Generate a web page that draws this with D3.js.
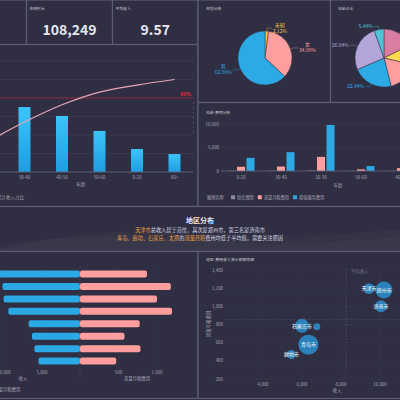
<!DOCTYPE html>
<html><head><meta charset="utf-8">
<script src="https://cdn.jsdelivr.net/npm/d3@7/dist/d3.min.js"></script>
<style>
html,body{margin:0;padding:0;background:#2c2b3e;overflow:hidden}
svg{display:block;font-family:"Noto Sans CJK SC","Noto Sans",sans-serif}
</style></head><body>
<svg id="c" width="400" height="400"></svg>
<script>
// ---------- DATA ----------
const kpiTitles = ["在网时长", "平均收入"];
const kpiValues = ["108,249", "9.57"];

const paretoCats = ["20-30", "30-40", "40-50", "50-60", "0-20", "60+"];
const paretoIncome = [52400, 35100, 30300, 22200, 12400, 9700];
const paretoTarget = 0.8;

const genderNames = ["未知", "女", "男"];
const genderShare = [2.12, 34.90, 62.99];

const ageNames = ["40-50", "50-60", "0-20", "20-30", "30-40", "60+"];
const ageShare = [17.60, 11.10, 17.38, 22.44, 26.04, 5.44];

const feeCats = ["0-20", "30-40", "20-30", "50-60", "40-50", "60+"];
const feeSeries = ["短信费用", "流量月租费用", "增值服务费用"];
const smsFee = [60, 50, 90, 30, 40, 20];
const flowFee = [900, 950, 3000, 350, 600, 300];
const vasFee = [2800, 4000, 9800, 1050, 1500, 900];

const cities = ["北京市", "郑州市", "济南市", "天津市", "太原市", "青岛市", "石家庄市", "廊坊市"];
const cityIncome = [11800, 10200, 10050, 9430, 6760, 6330, 6000, 5460];
const cityFlow = [870, 1180, 1000, 1195, 775, 578, 785, 470];
const cityUsers = [50, 72, 36, 30, 12, 100, 49, 20];

// ---------- STYLE ----------
const C = {bg:"#2c2b3e", panel:"#2f2e42", border:"#5e5d72", axis:"#a9a8b8", title:"#cfcfdb",
  grid:"#3b3a51", blue:"#2caae6", pink:"#ff9e9e", yellow:"#f6c445", gray:"#8c8ca6"};
const svg = d3.select("#c");
const defs = svg.append("defs");
svg.append("rect").attr("width",400).attr("height",400).attr("fill",C.bg);

function panel(id,x,y,w,h){
  svg.append("rect").attr("x",x).attr("y",y).attr("width",w).attr("height",h)
    .attr("fill",C.panel).attr("stroke",C.border).attr("stroke-width",1.2);
  defs.append("clipPath").attr("id","cl-"+id).append("rect")
    .attr("x",x+0.6).attr("y",y+0.6).attr("width",w-1.2).attr("height",h-1.2);
  return svg.append("g").attr("clip-path",`url(#cl-${id})`);
}
function txt(g,x,y,s,size,fill,anchor,weight){
  return g.append("text").attr("x",x).attr("y",y).attr("font-size",size).attr("fill",fill)
    .attr("text-anchor",anchor||"start").attr("font-weight",weight||"normal").text(s);
}

// ---------- KPI PANELS ----------
panel("k0",-60,0,86.5,44.5);
const kpiBoxes = [[26.5,86],[112.5,85.5]];
kpiBoxes.forEach((b,i)=>{
  const g = panel("k"+(i+1), b[0], 0, b[1], 44.5);
  txt(g, b[0]+3, 10, kpiTitles[i], 3.8, C.title);
  txt(g, b[0]+b[1]/2, 35, kpiValues[i], 14, "#e7e7f0", "middle", "bold");
});

// ---------- PARETO ----------
{
  const g = panel("pareto",-60,44.5,258,162);
  const x = d3.scaleBand().domain(paretoCats).range([-31.75,193.25]).paddingInner(0.68).paddingOuter(0.34);
  const y = d3.scaleLinear().domain([0,60000]).range([172,61]);
  const yr = d3.scaleLinear().domain([0,1.2]).range([172,61]);
  const grad = defs.append("linearGradient").attr("id","pg").attr("x1",0).attr("x2",0).attr("y1",0).attr("y2",1);
  grad.append("stop").attr("offset",0).attr("stop-color","#3cc4f8");
  grad.append("stop").attr("offset",1).attr("stop-color","#1f9de2");
  g.selectAll(".gl").data(y.ticks(6)).join("line").attr("x1",-60).attr("x2",193)
    .attr("y1",d=>y(d)).attr("y2",d=>y(d)).attr("stroke",C.grid).attr("stroke-width",0.8);
  g.selectAll(".bar").data(paretoCats).join("rect")
    .attr("x",d=>x(d)).attr("width",x.bandwidth())
    .attr("y",(d,i)=>y(paretoIncome[i])).attr("height",(d,i)=>y(0)-y(paretoIncome[i]))
    .attr("fill","url(#pg)");
  g.append("line").attr("x1",-60).attr("x2",193).attr("y1",yr(paretoTarget)).attr("y2",yr(paretoTarget))
    .attr("stroke","#8a2544").attr("stroke-width",1);
  txt(g,191,yr(paretoTarget)-2,d3.format(".0%")(paretoTarget),5,"#e8283e","end","bold");
  const total = d3.sum(paretoIncome);
  const cum = Array.from(d3.cumsum(paretoIncome)).map(v=>v/total);
  const line = d3.line().x((d,i)=>x(paretoCats[i])+x.bandwidth()/2).y(d=>yr(d)).curve(d3.curveMonotoneX);
  g.append("path").attr("d",line(cum)).attr("fill","none").attr("stroke","#e7a6b3").attr("stroke-width",1.2);
  g.append("line").attr("x1",193.5).attr("x2",193.5).attr("y1",yr(0.75)).attr("y2",yr(0.4))
    .attr("stroke","#8a89a0").attr("stroke-width",0.8).attr("stroke-dasharray","0.8,4");
  g.append("line").attr("x1",-60).attr("x2",193).attr("y1",172).attr("y2",172).attr("stroke","#66657a").attr("stroke-width",0.8);
  paretoCats.forEach(c=>txt(g,x(c)+x.bandwidth()/2,179,c,4.5,C.axis,"middle"));
  txt(g,(x.range()[0]+x.range()[1])/2,186,"年龄",4.5,C.axis,"middle");
  g.append("line").attr("x1",-20).attr("x2",-10).attr("y1",196.5).attr("y2",196.5).attr("stroke","#e7a6b3").attr("stroke-width",1.2);
  txt(g,-3.5,198.5,"累计收入占比",4.6,C.axis);
}

// ---------- PIES ----------
function pieLabels(g,cx,cy,r,arcs,colors,names,twoLine){
  arcs.forEach((a,i)=>{
    const mid=(a.startAngle+a.endAngle)/2, s=Math.sin(mid), c=Math.cos(mid);
    const px=cx+s*r, py=cy-c*r, ex=cx+s*(r+3), ey=cy-c*(r+3);
    const side = s>=0?1:-1, hx=ex+side*5;
    g.append("polyline").attr("points",[[px,py],[ex,ey],[hx,ey]].map(p=>p.join(",")).join(" "))
      .attr("fill","none").attr("stroke",colors[i]).attr("stroke-width",0.5).attr("opacity",0.7);
    const pct = a.data.toFixed(2)+"%";
    const w = pct.length*2.75;
    const tx = hx+side*(w/2+1);
    if(twoLine){
      txt(g,tx,ey-1.5,names[i],5,colors[i],"middle");
      txt(g,tx,ey+4.5,pct,5,colors[i],"middle");
    } else {
      txt(g,tx,ey+1.8,pct,5,colors[i],"middle");
    }
  });
}
{
  const g = panel("gender",198,0,132.5,102.5);
  txt(g,206,10,"性别分布",3.8,C.title);
  const cols=[C.yellow,C.pink,C.blue];
  const arcs=d3.pie().sort(null)(genderShare);
  const arc=d3.arc().innerRadius(0).outerRadius(27);
  const cx=265, cy=58;
  g.append("g").attr("transform",`translate(${cx},${cy})`).selectAll("path").data(arcs).join("path")
    .attr("d",arc).attr("fill",(d,i)=>cols[i]).attr("stroke","#34334a").attr("stroke-width",0.5);
  pieLabels(g,cx,cy,27,arcs,cols,genderNames,true);
}
{
  const g = panel("age",330.5,0,130,102.5);
  txt(g,338,10,"年龄占比",3.8,C.title);
  const cols=["#d97da3","#ffd84d","#ff9e9e","#2caae6","#b4a5d8","#4fc2d4"];
  const arcs=d3.pie().sort(null)(ageShare);
  const arc=d3.arc().innerRadius(0).outerRadius(29);
  const cx=384, cy=58;
  g.append("g").attr("transform",`translate(${cx},${cy})`).selectAll("path").data(arcs).join("path")
    .attr("d",arc).attr("fill",(d,i)=>cols[i]).attr("stroke","#34334a").attr("stroke-width",0.5);
  pieLabels(g,cx,cy,29,arcs,cols,ageNames,false);
}

// ---------- FEE GROUPED BARS ----------
{
  const g = panel("fee",198,102.5,263,104);
  txt(g,206,114,"年龄-费用分布",3.8,C.title);
  const x=d3.scaleBand().domain(feeCats).range([221,461]);
  const xs=d3.scaleBand().domain(feeSeries).range([-13.5,13.5]).paddingInner(0.158);
  const y=d3.scaleLinear().domain([0,10000]).range([171,124]);
  const vals=[smsFee,flowFee,vasFee];
  const cols=[C.gray,C.pink,C.blue];
  y.ticks(2).forEach(t=>{
    if(t>0) g.append("line").attr("x1",221).attr("x2",461).attr("y1",y(t)).attr("y2",y(t)).attr("stroke",C.grid).attr("stroke-width",0.6);
    txt(g,219,y(t)+1.6,d3.format(",")(t),4.4,C.axis,"end");
  });
  feeSeries.forEach((s,si)=>{
    g.selectAll(".b"+si).data(feeCats).join("rect").attr("class","b"+si)
      .attr("x",(d)=>x(d)+x.bandwidth()/2+xs(s)).attr("width",xs.bandwidth())
      .attr("y",(d,i)=>y(vals[si][i])).attr("height",(d,i)=>y(0)-y(vals[si][i]))
      .attr("fill",cols[si]);
  });
  g.append("line").attr("x1",221).attr("x2",461).attr("y1",171).attr("y2",171).attr("stroke","#66657a").attr("stroke-width",0.8);
  feeCats.forEach(c=>txt(g,x(c)+x.bandwidth()/2,179,c,4.5,C.axis,"middle"));
  txt(g,338,187,"年龄",4.5,C.axis,"middle");
  let lx=207;
  txt(g,lx,199,"图例名称",4.2,C.axis); lx+=24;
  feeSeries.forEach((s,si)=>{
    g.append("rect").attr("x",lx).attr("y",195.3).attr("width",4).attr("height",4).attr("fill",cols[si]).attr("rx",0.5);
    txt(g,lx+6,199,s,4.2,C.axis);
    lx+=6+s.length*4.2+4;
  });
}

// ---------- MIDDLE BAND ----------
{
  const g = panel("band",-10,206.5,420,45);
  g.append("path").attr("d","M-10,251 C60,236 120,226 200,234 C270,241 330,236 410,228 L410,251 Z")
    .attr("fill","#ffffff").attr("opacity",0.03);
  g.append("path").attr("d","M-10,246 C80,232 150,236 230,242 C300,247 350,240 410,236 L410,251 L-10,251 Z")
    .attr("fill","#ffffff").attr("opacity",0.025);
  txt(g,200,223,"地区分布",7,"#eeeef5","middle","bold");
  const orange="#f2a23a", white="#dcdce6";
  const l1=g.append("text").attr("x",200).attr("y",231.5).attr("font-size",5.2).attr("text-anchor","middle");
  [["天津市",orange],["总收入居于首位，其次是郑州市，第三名是济南市",white]].forEach(p=>l1.append("tspan").attr("fill",p[1]).text(p[0]));
  const l2=g.append("text").attr("x",200).attr("y",239.5).attr("font-size",5.2).attr("text-anchor","middle");
  [["青岛、廊坊、石家庄、太原",orange],["的",white],["流量月租",orange],["费用均低于平均值，需要关注原因",white]].forEach(p=>l2.append("tspan").attr("fill",p[1]).text(p[0]));
}

// ---------- BUTTERFLY ----------
{
  const g = panel("bfly",-60,251.5,258,147);
  const y=d3.scaleBand().domain(cities).range([267.8,367.3]).paddingInner(0.44).paddingOuter(0.22);
  const xl=d3.scaleLinear().domain([0,12000]).range([80,-11.2]);
  const xr=d3.scaleLinear().domain([0,1500]).range([80,195.5]);
  [5000,10000].forEach(t=>g.append("line").attr("x1",xl(t)).attr("x2",xl(t)).attr("y1",266).attr("y2",368).attr("stroke",C.grid).attr("stroke-width",0.4));
  [500,1000].forEach(t=>g.append("line").attr("x1",xr(t)).attr("x2",xr(t)).attr("y1",266).attr("y2",368).attr("stroke",C.grid).attr("stroke-width",0.4));
  g.append("line").attr("x1",80).attr("x2",80).attr("y1",266).attr("y2",380).attr("stroke","#45445a").attr("stroke-width",0.6);
  g.selectAll(".l").data(cities).join("rect").attr("class","l")
    .attr("x",(d,i)=>xl(cityIncome[i])).attr("width",(d,i)=>80-xl(cityIncome[i]))
    .attr("y",d=>y(d)).attr("height",y.bandwidth()).attr("rx",2).attr("fill","#2aa9e4");
  g.selectAll(".r").data(cities).join("rect").attr("class","r")
    .attr("x",80).attr("width",(d,i)=>xr(cityFlow[i])-80)
    .attr("y",d=>y(d)).attr("height",y.bandwidth()).attr("rx",2).attr("fill","#ff9e9e");
  [5000,10000].forEach(t=>txt(g,xl(t),374,d3.format(",")(t),4.4,C.axis,"middle"));
  [500,1000].forEach(t=>txt(g,xr(t),374,d3.format(",")(t),4.4,C.axis,"middle"));
  txt(g,xl(7500),380,"收入",4.4,C.axis,"middle");
  txt(g,xr(740),380,"流量月租费用",4.4,C.axis,"middle");
  g.append("rect").attr("x",-40).attr("y",386.5).attr("width",5).attr("height",4).attr("rx",1).attr("fill","#2aa9e4");
  txt(g,-33,390.5,"收入",4.4,C.axis);
  g.append("rect").attr("x",-13).attr("y",386.5).attr("width",5).attr("height",4).attr("rx",1).attr("fill","#ff9e9e");
  txt(g,-6,390.5,"流量月租费用",4.4,C.axis);
}

// ---------- SCATTER ----------
{
  const g = panel("scatter",198,251.5,263,147);
  txt(g,206,261,"地区-费用收入波士顿矩阵图",3.9,C.title);
  const x=d3.scaleLinear().domain([2000,12000]).range([224,419]);
  const y=d3.scaleLinear().domain([200,1400]).range([379,270]);
  const r=d3.scaleSqrt().domain([0,100]).range([0,10]);
  x.ticks(5).forEach(t=>{
    if(t>2000){
      g.append("line").attr("x1",x(t)).attr("x2",x(t)).attr("y1",270).attr("y2",379).attr("stroke",C.grid).attr("stroke-width",0.5);
      txt(g,x(t),386,d3.format(",")(t),4.4,C.axis,"middle");
    }
  });
  y.ticks(6).forEach(t=>{
    g.append("line").attr("x1",224).attr("x2",461).attr("y1",y(t)).attr("y2",y(t)).attr("stroke",C.grid).attr("stroke-width",0.5);
    txt(g,223,y(t)+1.6,d3.format(",")(t),4.4,C.axis,"end");
  });
  const ax=d3.mean(cityIncome), ay=d3.mean(cityFlow);
  g.append("line").attr("x1",x(ax)).attr("x2",x(ax)).attr("y1",268).attr("y2",379).attr("stroke","#56556c").attr("stroke-width",0.6).attr("stroke-dasharray","2,1.5");
  g.append("line").attr("x1",224).attr("x2",461).attr("y1",y(ay)).attr("y2",y(ay)).attr("stroke","#56556c").attr("stroke-width",0.6).attr("stroke-dasharray","2,1.5");
  txt(g,x(ax)+5,273,"平均收入",4.4,"#75748a");
  g.selectAll(".pt").data(cities).join("circle").attr("class","pt")
    .attr("cx",(d,i)=>x(cityIncome[i])).attr("cy",(d,i)=>y(cityFlow[i])).attr("r",(d,i)=>r(cityUsers[i]))
    .attr("fill","#2b89c4").attr("opacity",0.92);
  cities.forEach((c,i)=>{
    if(r(cityUsers[i])>=4) txt(g,x(cityIncome[i]),y(cityFlow[i])+1.8,c,5,"#ffffff","middle");
  });
  txt(g,337,392,"收入",4.6,C.axis,"middle");
  g.append("text").attr("transform","translate(209.5,324) rotate(-90)").attr("font-size",4.4)
    .attr("fill",C.axis).attr("text-anchor","middle").text("流量月租费用");
}
</script>
</body></html>
